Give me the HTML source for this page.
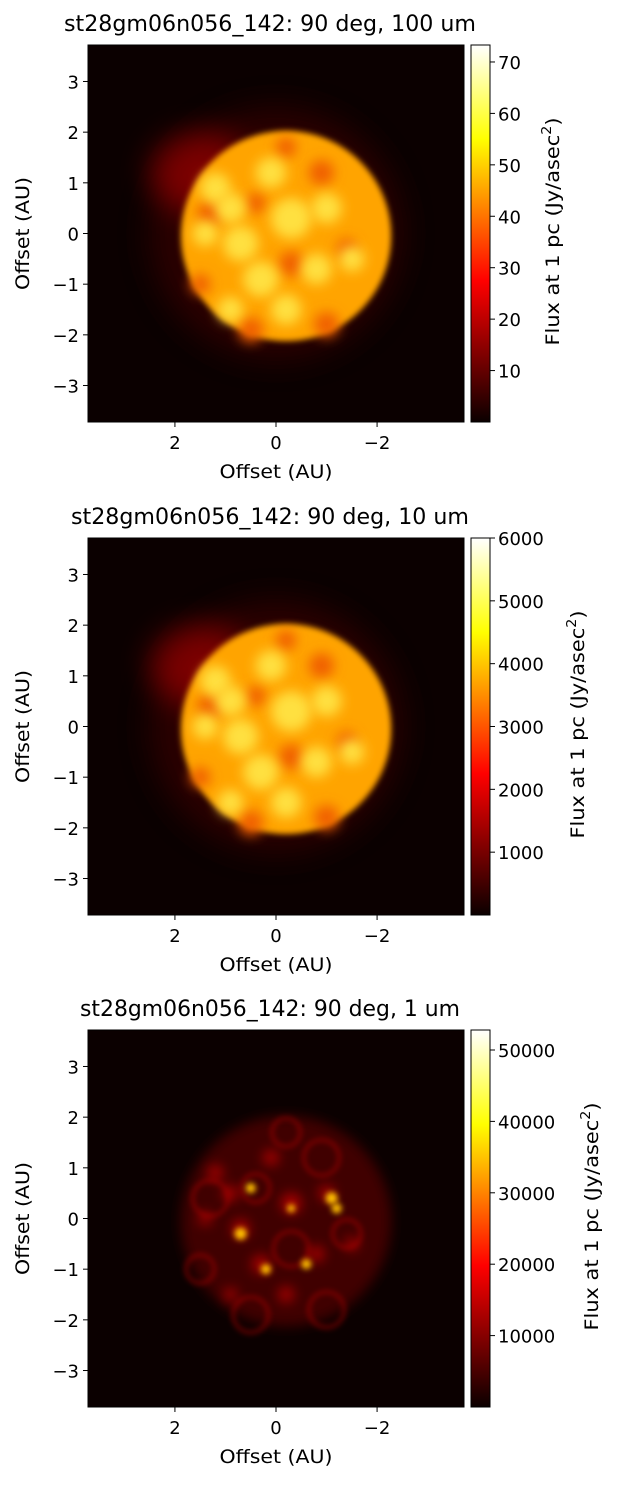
<!DOCTYPE html>
<html><head><meta charset="utf-8">
<style>
body{margin:0;background:#fff;}
svg text{font-family:"DejaVu Sans","Liberation Sans",sans-serif;fill:#000;}
</style></head>
<body>
<svg id="fig" width="622" height="1485" viewBox="0 0 622 1485" xmlns="http://www.w3.org/2000/svg">
<defs>
<linearGradient id="hot" x1="0" y1="1" x2="0" y2="0">
<stop offset="0" stop-color="#0b0000"/><stop offset="0.375" stop-color="#ff0000"/>
<stop offset="0.75" stop-color="#ffff00"/><stop offset="1" stop-color="#ffffff"/>
</linearGradient>
<filter id="b6" x="-100%" y="-100%" width="300%" height="300%"><feGaussianBlur stdDeviation="6"/></filter>
<filter id="b3" x="-100%" y="-100%" width="300%" height="300%"><feGaussianBlur stdDeviation="3"/></filter>
<filter id="b15" x="-100%" y="-100%" width="300%" height="300%"><feGaussianBlur stdDeviation="15"/></filter>
</defs>
</svg>
<script>
const titles=["st28gm06n056_142: 90 deg, 100 um","st28gm06n056_142: 90 deg, 10 um","st28gm06n056_142: 90 deg, 1 um"];
const xTicks=[2,0,-2];
const yTicks=[3,2,1,0,-1,-2,-3];
const cbMin=[0,0,0];
const cbMax=[73.3,6000,52800];
const cbTicks1=[10,20,30,40,50,60,70];
const cbTicks2=[1000,2000,3000,4000,5000,6000];
const cbTicks3=[10000,20000,30000,40000,50000];
const extent=3.72;
const brightBlobs=[[0.7,-0.2,0.35],[-0.3,0.3,0.4],[-1.0,0.5,0.3],[0.3,-0.9,0.35],[-0.8,-0.7,0.3],[1.2,0.9,0.3],[-0.2,-1.5,0.3],[0.9,-1.5,0.25],[0.1,1.2,0.3],[1.4,0.0,0.25],[-1.5,-0.5,0.25],[0.9,0.5,0.3]];
const darkBlobs=[[1.3,0.4,0.25],[-0.9,1.2,0.25],[0.4,0.6,0.2],[-0.3,-0.6,0.25],[-1.4,-0.3,0.2],[0.5,-1.9,0.25],[-1.0,-1.8,0.25],[1.5,-1.0,0.2],[-0.2,1.7,0.2]];
const spots3=[[0.7,-0.3,0.12],[-1.1,0.4,0.12],[0.2,-1.0,0.1],[-0.6,-0.9,0.1],[0.5,0.6,0.1],[-0.3,0.2,0.08],[-1.2,0.2,0.1]];
const tops=[45,538,1030];
const X0=88,W=376,H=377,CBX=471,CBW=19;
const svg=document.getElementById('fig');
const NS='http://www.w3.org/2000/svg';
function mk(t,a,p){const e=document.createElementNS(NS,t);for(const k in a)e.setAttribute(k,a[k]);(p||svg).appendChild(e);return e;}
function txt(s,a,p){const e=mk('text',a,p);e.textContent=s;return e;}
function fmt(v){return v<0?'\u2212'+(-v):''+v;}
tops.forEach((top,i)=>{
  const g=mk('g',{});
  
  
  const sx=v=>X0+W/2-v*(W/2)/extent;
  const sy=v=>top+H/2-v*(H/2)/extent;
  const r=v=>v*(W/2)/extent;
  const clip=mk('clipPath',{id:'c'+i},g);mk('rect',{x:X0,y:top,width:W,height:H},clip);
  const img=mk('g',{'clip-path':'url(#c'+i+')'},g);
  
  
  mk('rect',{x:X0,y:top,width:W,height:H,fill:'#0b0000'},img);
  const cx=sx(-0.2),cy=sy(-0.05),R=r(2.08);
  if(i<2){
    mk('ellipse',{cx:sx(0),cy:sy(0),rx:r(2.5),ry:r(2.5),fill:'#380000',opacity:0.7,filter:'url(#b15)'},img);
    mk('ellipse',{cx:sx(1.5),cy:sy(1.2),rx:r(1.0),ry:r(0.8),fill:'#b00000',opacity:0.6,filter:'url(#b15)'},img);
    mk('circle',{cx:cx,cy:cy,r:R,fill:'#ffa400',filter:'url(#b3)'},img);
    darkBlobs.forEach(b=>mk('circle',{cx:sx(b[0]),cy:sy(b[1]),r:r(b[2]),fill:'#f06000',filter:'url(#b6)'},img));
    brightBlobs.forEach(b=>mk('circle',{cx:sx(b[0]),cy:sy(b[1]),r:r(b[2]),fill:'#ffe040',filter:'url(#b6)'},img));
  } else {
    mk('circle',{cx:cx,cy:cy,r:R,fill:'#400000',filter:'url(#b6)'},img);
    darkBlobs.forEach(b=>mk('circle',{cx:sx(b[0]),cy:sy(b[1]),r:r(b[2]*1.4),fill:'none',stroke:'#b00000','stroke-width':2.5,opacity:0.8,filter:'url(#b3)'},img));
    brightBlobs.forEach(b=>mk('circle',{cx:sx(b[0]),cy:sy(b[1]),r:r(b[2]*0.5),fill:'#c80000',opacity:0.8,filter:'url(#b6)'},img));
    spots3.forEach(b=>mk('circle',{cx:sx(b[0]),cy:sy(b[1]),r:r(b[2]),fill:'#ffc000',filter:'url(#b3)'},img));
  }
  mk('rect',{x:X0,y:top,width:W,height:H,fill:'none',stroke:'#000','stroke-width':1},g);
  xTicks.forEach(v=>{const x=sx(v);mk('line',{x1:x,x2:x,y1:top+H,y2:top+H+5,stroke:'#000'},g);
    const t=txt(fmt(v),{x:x,y:top+H+27,'text-anchor':'middle','font-size':18},g);
    });
  yTicks.forEach(v=>{const y=sy(v);mk('line',{x1:X0-5,x2:X0,y1:y,y2:y,stroke:'#000'},g);
    const t=txt(fmt(v),{x:X0-9,y:y+7,'text-anchor':'end','font-size':18},g);
    });
  const tw=[412,398,380][i];
  const tt=txt(titles[i],{x:X0+W/2-6,y:top-14,'text-anchor':'middle','font-size':22,textLength:tw,lengthAdjust:'spacingAndGlyphs'},g);
  
  const xl=txt('Offset (AU)',{x:X0+W/2,y:top+H+56,'text-anchor':'middle','font-size':19,textLength:113,lengthAdjust:'spacingAndGlyphs'},g);
  
  const yl=txt('Offset (AU)',{x:0,y:0,'text-anchor':'middle','font-size':19,textLength:113,lengthAdjust:'spacingAndGlyphs',transform:`translate(29,${top+H/2}) rotate(-90)`},g);
  
  const cb=mk('rect',{x:CBX,y:top,width:CBW,height:H,fill:'url(#hot)',stroke:'#000','stroke-width':1},g);
  
  const cbt=[cbTicks1,cbTicks2,cbTicks3][i];
  const cy2=v=>top+H-(v-cbMin[i])/(cbMax[i]-cbMin[i])*H;
  cbt.forEach(v=>{const y=cy2(v);mk('line',{x1:CBX+CBW,x2:CBX+CBW+5,y1:y,y2:y,stroke:'#000'},g);
    const t=txt(''+v,{x:CBX+CBW+8,y:y+7,'font-size':18},g);
    });
  const lx=[559,584,598][i];
  const cl=txt('',{x:0,y:0,'text-anchor':'middle','font-size':19,textLength:228,lengthAdjust:'spacingAndGlyphs',transform:`translate(${lx},${top+H/2-2}) rotate(-90)`},g);
  
  cl.appendChild(document.createTextNode('Flux at 1 pc (Jy/asec'));
  const sup=mk('tspan',{'font-size':13,dy:-8},cl);sup.textContent='2';
  const cp=mk('tspan',{dy:8},cl);cp.textContent=')';
});
</script>
</body></html>
